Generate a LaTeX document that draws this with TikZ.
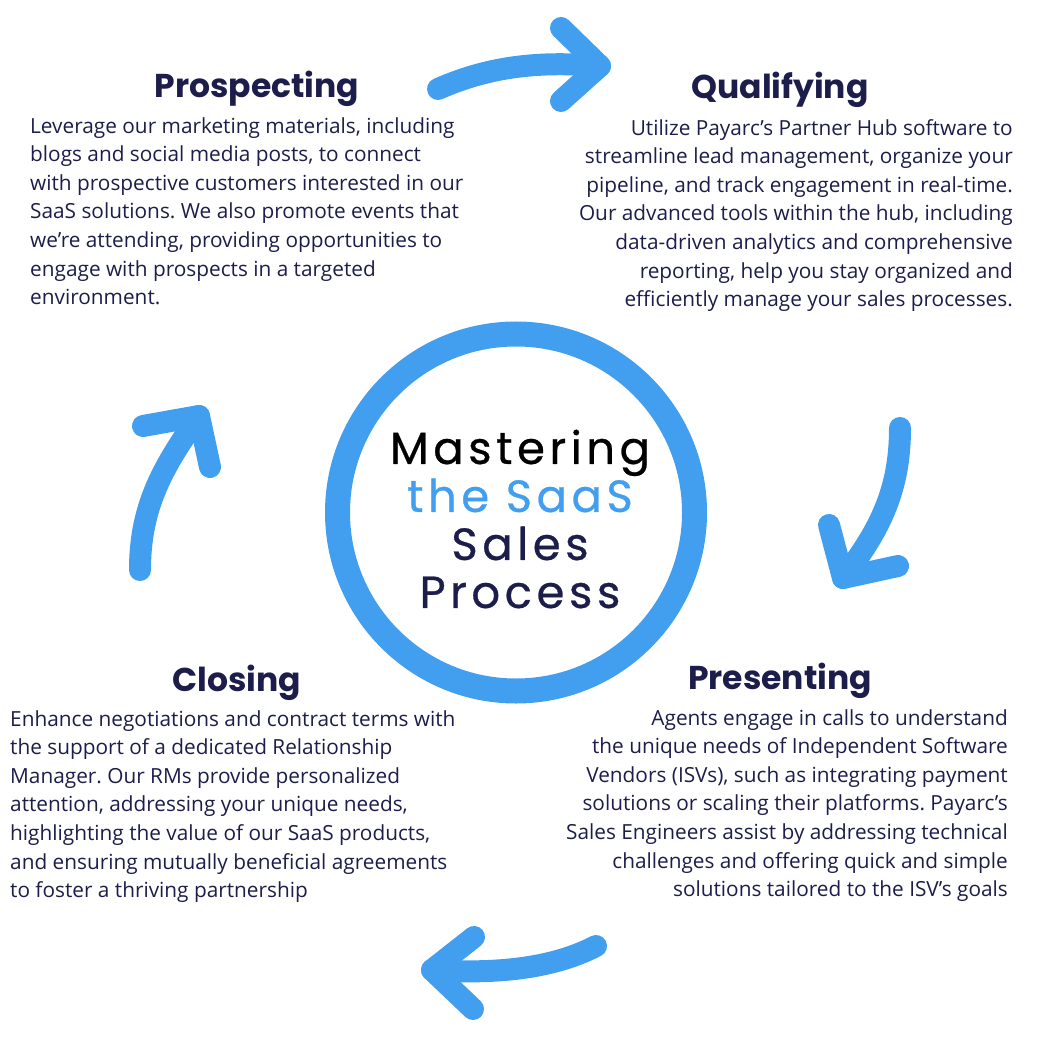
\documentclass[tikz,border=0pt]{standalone}
\usepackage{fontspec}
\setmainfont{Open Sans}
\newfontfamily\headfont{Poppins}[UprightFont=*-Bold]
\newfontfamily\hubfont{Poppins}[LetterSpace=10, FakeBold=0.6]
\usepackage{xcolor}
\usepackage{tikz}
\usetikzlibrary{positioning,calc}
\frenchspacing

\begin{document}
\begin{tikzpicture}[x=1pt, y=-1pt,
    heading/.style={anchor=base, inner sep=0, text=navy, font=\headfont\fontsize{33}{38}\selectfont},
    body/.style={inner sep=0, text=navy, font=\fontsize{20.8}{28.6}\selectfont},
    cyclearrow/.style={draw=skyblue, line width=22, line cap=round, line join=round}]
    % Define colors
    \definecolor{skyblue}{RGB}{66, 159, 240}
    \definecolor{navy}{RGB}{28, 29, 74}

    \useasboundingbox (0, 0) rectangle (1040, 1040);

    % Centre ring and title
    \node[circle, draw=skyblue, line width=25, minimum size=357, inner sep=0] (hub) at (516, 512.5) {};
    \node[align=center, inner sep=0, font=\hubfont\fontsize{45}{48}\selectfont] (title) at (520, 519) {
        \textcolor{black}{Mastering}\\
        \textcolor{skyblue}{the SaaS}\\
        \textcolor{navy}{Sales}\\
        \textcolor{navy}{Process}};

    % Step 1: Prospecting
    \node[heading] (prospecting) at (257, 98) {Prospecting};
    \node[body, anchor=north west, align=left] (prospectingtext) at (30, 117) {
        Leverage our marketing materials, including\\
        blogs and social media posts, to connect\\
        with prospective customers interested in our\\
        SaaS solutions. We also promote events that\\
        we’re attending, providing opportunities to\\
        engage with prospects in a targeted\\
        environment.};

    % Step 2: Qualifying
    \node[heading] (qualifying) at (780, 99) {Qualifying};
    \node[body, anchor=north east, align=right] (qualifyingtext) at (1013, 119) {
        Utilize Payarc’s Partner Hub software to\\
        streamline lead management, organize your\\
        pipeline, and track engagement in real-time.\\
        Our advanced tools within the hub, including\\
        data-driven analytics and comprehensive\\
        reporting, help you stay organized and\\
        efficiently manage your sales processes.};

    % Step 3: Presenting
    \node[heading] (presenting) at (780, 689) {Presenting};
    \node[body, anchor=north east, align=right] (presentingtext) at (1008, 709) {
        Agents engage in calls to understand\\
        the unique needs of Independent Software\\
        Vendors (ISVs), such as integrating payment\\
        solutions or scaling their platforms. Payarc’s\\
        Sales Engineers assist by addressing technical\\
        challenges and offering quick and simple\\
        solutions tailored to the ISV’s goals};

    % Step 4: Closing
    \node[heading] (closing) at (237, 691) {Closing};
    \node[body, anchor=north west, align=left] (closingtext) at (10, 710) {
        Enhance negotiations and contract terms with\\
        the support of a dedicated Relationship\\
        Manager. Our RMs provide personalized\\
        attention, addressing your unique needs,\\
        highlighting the value of our SaaS products,\\
        and ensuring mutually beneficial agreements\\
        to foster a thriving partnership};

    % Cycle arrows
    \coordinate (topstart) at (438, 89);
    \coordinate (toptip) at (600, 66);
    \draw[cyclearrow] (topstart) .. controls (490, 66) and (540, 61) .. (toptip);
    \draw[cyclearrow] (561, 28) -- (toptip) -- (561, 101);

    \coordinate (rightstart) at (900, 428);
    \coordinate (righttip) at (843, 578);
    \draw[cyclearrow] (rightstart) .. controls (900, 490) and (880, 530) .. (righttip);
    \draw[cyclearrow] (829, 525) -- (righttip) -- (898, 566);

    \coordinate (bottomstart) at (596, 946);
    \coordinate (bottomtip) at (432, 970);
    \draw[cyclearrow] (bottomstart) .. controls (550, 970) and (490, 974) .. (bottomtip);
    \draw[cyclearrow] (474, 937) -- (bottomtip) -- (473, 1009);

    \coordinate (leftstart) at (140, 570);
    \coordinate (lefttip) at (199, 416);
    \draw[cyclearrow] (leftstart) .. controls (140, 510) and (160, 470) .. (lefttip);
    \draw[cyclearrow] (143, 426) -- (lefttip) -- (210, 467);
\end{tikzpicture}
\end{document}
